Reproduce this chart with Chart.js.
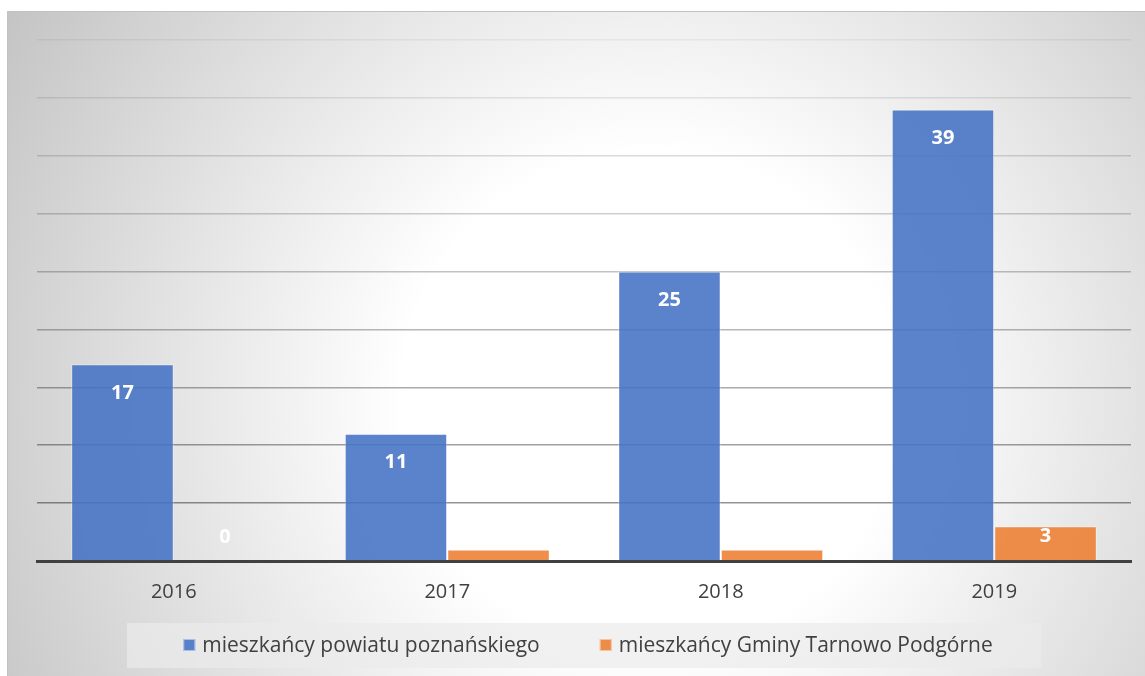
<!DOCTYPE html>
<html>
<head>
<meta charset="utf-8">
<script src="https://cdn.jsdelivr.net/npm/chart.js@4"></script>
<style>
  html, body { margin: 0; padding: 0; background: #fff; overflow: hidden; }
  #frame {
    position: absolute; left: 7px; top: 11px;
    width: 1144px; height: 669px;
    border: 1px solid #c2c2c2;
    background: radial-gradient(circle farthest-corner at 642px 388px, #ffffff 0%, #ffffff 33%, #c4c4c4 100%);
  }
  #chart { position: absolute; left: 0; top: 0; }
</style>
</head>
<body>
<div id="frame"><canvas id="chart" width="1144" height="669"></canvas></div>
<script>
// ---- data ----
const years = ["2016", "2017", "2018", "2019"];
const powiatValues = [17, 11, 25, 39];
const gminaValues = [0, 1, 1, 3];
const seriesNames = ["mieszkańcy powiatu poznańskiego", "mieszkańcy Gminy Tarnowo Podgórne"];
const yMax = 45;
const yStep = 5;

const FONT = "'Open Sans', 'Noto Sans', sans-serif";
const TEXT = "#404040";
const BLUE = "rgba(68,114,196,0.88)";
const ORANGE = "rgba(237,125,49,0.88)";

// white value labels, inside the top of each bar
const valueLabels = {
  id: "valueLabels",
  afterDatasetsDraw(chart) {
    const ctx = chart.ctx;
    ctx.save();
    ctx.font = "bold 20px " + FONT;
    ctx.fillStyle = "#ffffff";
    ctx.textAlign = "center";
    ctx.textBaseline = "middle";
    chart.data.datasets.forEach((ds, i) => {
      chart.getDatasetMeta(i).data.forEach((bar, j) => {
        const y = Math.min(bar.y + 29, bar.base - 24);
        ctx.fillText(String(ds.data[j]), bar.x, y);
      });
    });
    ctx.restore();
  }
};

// legend drawn in a shaded box below the axis
const boxLegend = {
  id: "boxLegend",
  afterDraw(chart) {
    const ctx = chart.ctx;
    const ca = chart.chartArea;
    const cx = (ca.left + ca.right) / 2;
    const cy = 633;
    ctx.save();
    ctx.fillStyle = "rgba(235,235,235,0.7)";
    ctx.fillRect(cx - 457, 611, 914, 45);

    ctx.font = "21px " + FONT;
    ctx.textBaseline = "middle";
    const gap = 60, box = 12, space = 7;
    const widths = chart.data.datasets.map(d => box + space + ctx.measureText(d.label).width);
    const total = widths.reduce((a, b) => a + b, 0) + gap * (widths.length - 1);
    let x = cx - total / 2 + 4;
    chart.data.datasets.forEach((d, i) => {
      ctx.fillStyle = d.backgroundColor;
      ctx.fillRect(x, cy - box / 2, box, box);
      ctx.strokeStyle = "rgba(255,255,255,0.5)";
      ctx.lineWidth = 1;
      ctx.strokeRect(x + 0.5, cy - box / 2 + 0.5, box - 1, box - 1);
      ctx.fillStyle = TEXT;
      ctx.fillText(d.label, x + box + space, cy + 1);
      x += widths[i] + gap;
    });
    ctx.restore();
  }
};

new Chart(document.getElementById("chart"), {
  type: "bar",
  data: {
    labels: years,
    datasets: [
      {
        label: seriesNames[0],
        data: powiatValues,
        backgroundColor: BLUE,
        borderColor: "rgba(255,255,255,0.35)",
        borderWidth: 1
      },
      {
        label: seriesNames[1],
        data: gminaValues,
        backgroundColor: ORANGE,
        borderColor: "rgba(255,255,255,0.35)",
        borderWidth: 1
      }
    ]
  },
  options: {
    responsive: false,
    animation: false,
    layout: { padding: { left: 29, right: 21, top: 28, bottom: 70 } },
    datasets: { bar: { categoryPercentage: 0.75, barPercentage: 1.0 } },
    plugins: {
      legend: { display: false },
      tooltip: { enabled: false }
    },
    scales: {
      x: {
        grid: { display: false },
        border: { display: true, color: TEXT, width: 3 },
        ticks: { color: TEXT, font: { family: FONT, size: 20 }, padding: 11 },
        afterFit: s => { s.height = 50; }
      },
      y: {
        min: 0,
        max: yMax,
        ticks: { display: false, stepSize: yStep },
        border: { display: false },
        grid: {
          drawTicks: false,
          lineWidth: 1.5,
          color: c => {
            const v = c.tick ? c.tick.value : 0;
            const a = 0.42 - (v - yStep) / (yMax - yStep) * 0.37;
            return "rgba(0,0,0," + a.toFixed(3) + ")";
          }
        },
        afterFit: s => { s.width = 0; }
      }
    }
  },
  plugins: [valueLabels, boxLegend]
});
</script>
</body>
</html>
